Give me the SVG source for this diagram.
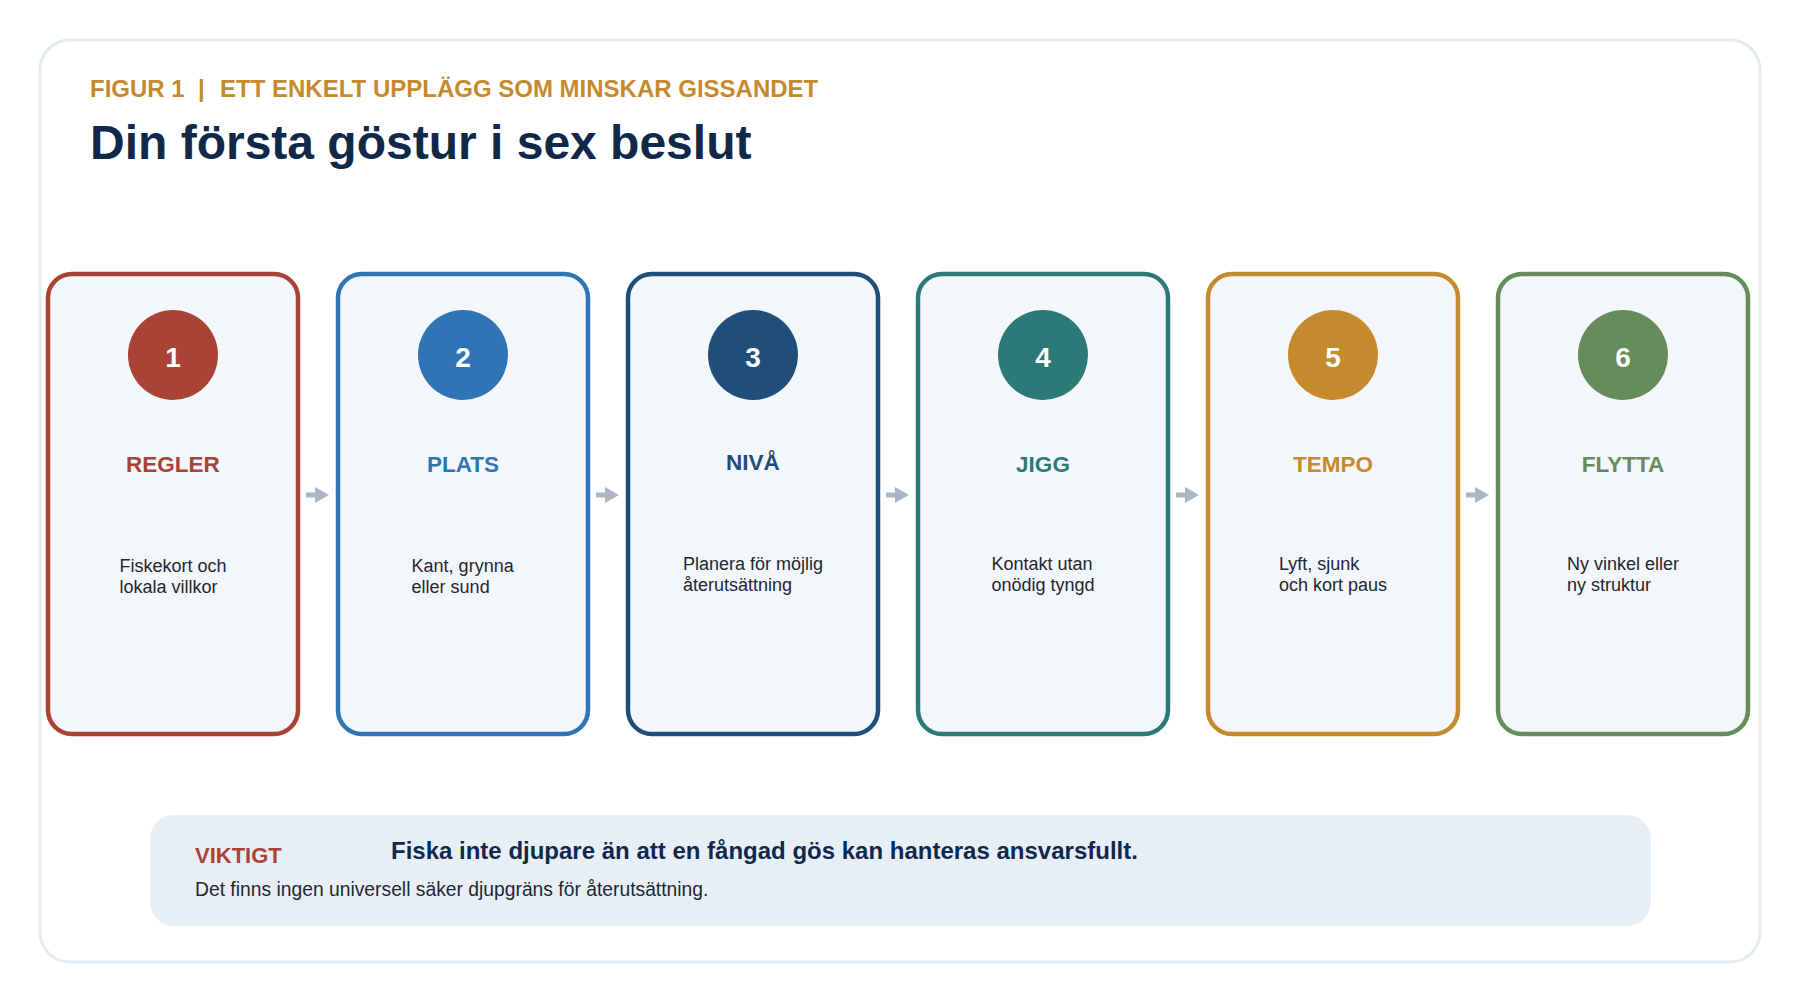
<svg xmlns="http://www.w3.org/2000/svg" width="1800" height="1000" viewBox="0 0 1800 1000">
  <defs>
    <marker id="ah" markerUnits="userSpaceOnUse" markerWidth="14" markerHeight="16" refX="0" refY="8" orient="auto">
      <path d="M0,0 L14,8 L0,16 z" fill="#A9B6C4"/>
    </marker>
    <style>
      .sans { font-family: "Liberation Sans", Arial, sans-serif; }
      .card { fill: #F3F6FA; stroke-width: 4.5; }
      .num { font-family: "Liberation Sans", Arial, sans-serif; font-weight: bold; font-size: 28px; fill: #FFFFFF; text-anchor: middle; }
      .ttl { font-family: "Liberation Sans", Arial, sans-serif; font-weight: bold; font-size: 22.5px; text-anchor: middle; }
      .desc { font-family: "Liberation Sans", Arial, sans-serif; font-size: 18px; fill: #1E2733; }
      .conn { stroke: #A9B6C4; stroke-width: 5; fill: none; }
    </style>
  </defs>

  <rect x="0" y="0" width="1800" height="1000" fill="#FFFFFF"/>
  <rect id="frame" x="40" y="40" width="1720" height="922" rx="30" fill="#FFFFFF" stroke="#E4EAF2" stroke-width="3"/>

  <g id="header" class="sans">
    <text x="90" y="97" font-size="24" font-weight="bold" fill="#C68A2E">FIGUR 1</text>
    <text x="198" y="97" font-size="24" font-weight="bold" fill="#C68A2E">|</text>
    <text x="220" y="97" font-size="24" font-weight="bold" fill="#C68A2E">ETT ENKELT UPPLÄGG SOM MINSKAR GISSANDET</text>
    <text x="90" y="159" font-size="48" font-weight="bold" fill="#10294A">Din första göstur i sex beslut</text>
  </g>

  <g id="connectors">
    <line class="conn" x1="306" y1="495" x2="315" y2="495" marker-end="url(#ah)"/>
    <line class="conn" x1="596" y1="495" x2="605" y2="495" marker-end="url(#ah)"/>
    <line class="conn" x1="886" y1="495" x2="895" y2="495" marker-end="url(#ah)"/>
    <line class="conn" x1="1176" y1="495" x2="1185" y2="495" marker-end="url(#ah)"/>
    <line class="conn" x1="1466" y1="495" x2="1475" y2="495" marker-end="url(#ah)"/>
  </g>

  <g id="node-1">
    <rect class="card" x="48" y="274" width="250" height="460" rx="24" stroke="#A84335"/>
    <circle cx="173" cy="355" r="45" fill="#A84335"/>
    <text class="num" x="173" y="367">1</text>
    <text class="ttl" x="173" y="472" fill="#A84335">REGLER</text>
    <text class="desc" y="572"><tspan x="119.5">Fiskekort och</tspan><tspan x="119.5" dy="20.5">lokala villkor</tspan></text>
  </g>

  <g id="node-2">
    <rect class="card" x="338" y="274" width="250" height="460" rx="24" stroke="#2F74B5"/>
    <circle cx="463" cy="355" r="45" fill="#2F74B5"/>
    <text class="num" x="463" y="367">2</text>
    <text class="ttl" x="463" y="472" fill="#2F74B5">PLATS</text>
    <text class="desc" y="572"><tspan x="411.6">Kant, grynna</tspan><tspan x="411.6" dy="20.5">eller sund</tspan></text>
  </g>

  <g id="node-3">
    <rect class="card" x="628" y="274" width="250" height="460" rx="24" stroke="#1F4E7A"/>
    <circle cx="753" cy="355" r="45" fill="#1F4E7A"/>
    <text class="num" x="753" y="367">3</text>
    <text class="ttl" x="753" y="470" fill="#1F4E7A">NIVÅ</text>
    <text class="desc" y="570"><tspan x="683">Planera för möjlig</tspan><tspan x="683" dy="20.5">återutsättning</tspan></text>
  </g>

  <g id="node-4">
    <rect class="card" x="918" y="274" width="250" height="460" rx="24" stroke="#2B7A78"/>
    <circle cx="1043" cy="355" r="45" fill="#2B7A78"/>
    <text class="num" x="1043" y="367">4</text>
    <text class="ttl" x="1043" y="472" fill="#2B7A78">JIGG</text>
    <text class="desc" y="570"><tspan x="991.5">Kontakt utan</tspan><tspan x="991.5" dy="20.5">onödig tyngd</tspan></text>
  </g>

  <g id="node-5">
    <rect class="card" x="1208" y="274" width="250" height="460" rx="24" stroke="#C68A2E"/>
    <circle cx="1333" cy="355" r="45" fill="#C68A2E"/>
    <text class="num" x="1333" y="367">5</text>
    <text class="ttl" x="1333" y="472" fill="#C68A2E">TEMPO</text>
    <text class="desc" y="570"><tspan x="1279">Lyft, sjunk</tspan><tspan x="1279" dy="20.5">och kort paus</tspan></text>
  </g>

  <g id="node-6">
    <rect class="card" x="1498" y="274" width="250" height="460" rx="24" stroke="#658C5A"/>
    <circle cx="1623" cy="355" r="45" fill="#658C5A"/>
    <text class="num" x="1623" y="367">6</text>
    <text class="ttl" x="1623" y="472" fill="#658C5A">FLYTTA</text>
    <text class="desc" y="570"><tspan x="1567">Ny vinkel eller</tspan><tspan x="1567" dy="20.5">ny struktur</tspan></text>
  </g>

  <g id="callout" class="sans">
    <rect x="150" y="815" width="1501" height="111" rx="24" fill="#E8EEF6"/>
    <text x="195" y="863" font-size="22" font-weight="bold" fill="#A84335">VIKTIGT</text>
    <text x="391" y="859" font-size="24" font-weight="bold" fill="#10294A">Fiska inte djupare än att en fångad gös kan hanteras ansvarsfullt.</text>
    <text x="195" y="896" font-size="19.3" fill="#1E2733">Det finns ingen universell säker djupgräns för återutsättning.</text>
  </g>
</svg>
